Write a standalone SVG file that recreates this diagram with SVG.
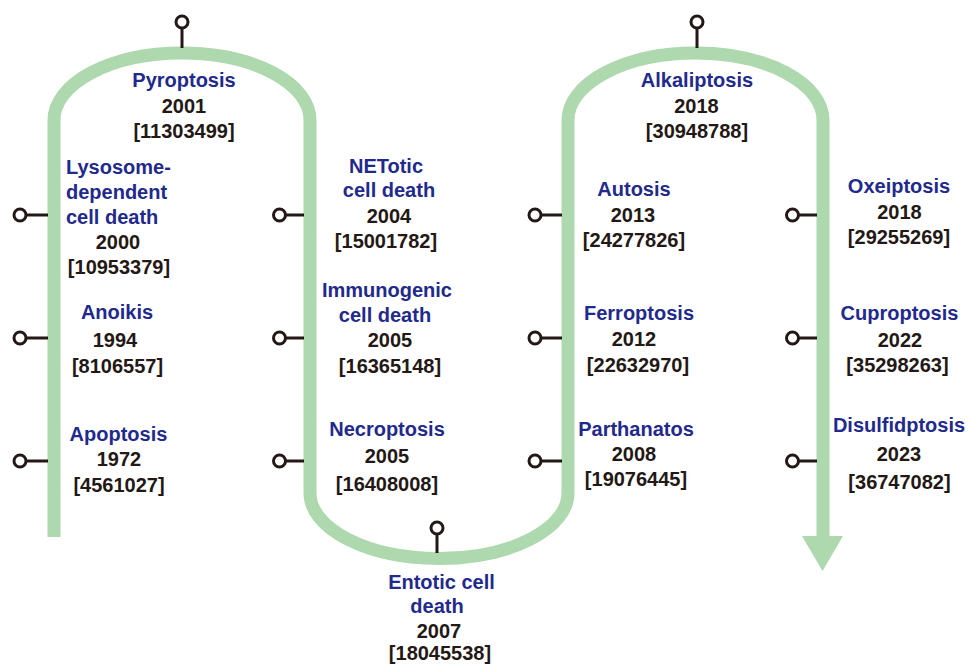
<svg xmlns="http://www.w3.org/2000/svg" width="978" height="664" viewBox="0 0 978 664">
<defs>
<style>
.track{fill:none;stroke:#aed8ae;stroke-width:13}
.head{fill:#aed8ae}
.pin circle{fill:#fff;stroke:#231815;stroke-width:3}
.pin line{stroke:#231815;stroke-width:3}
text{font-family:"Liberation Sans",Arial,sans-serif;font-weight:bold;font-size:20px}
.n{fill:#1f2a8c}
.d{fill:#231815}
.c{text-anchor:middle}
</style>
</defs>
<g id="timeline">
<path class="track" d="M54 537 L54 120 A128 67 0 0 1 310 120 L310 493 A129 65.5 0 0 0 568 493 L568 120 A127.5 67 0 0 1 823 120 L823 537"/>
<polygon class="head" points="802,536 843,536 822.5,571"/>
</g>
<g id="connectors">
<g class="pin"><line x1="182" y1="29" x2="182" y2="48"/><circle cx="182" cy="22" r="6"/></g>
<g class="pin"><line x1="697" y1="29" x2="697" y2="48"/><circle cx="697" cy="22" r="6"/></g>
<g class="pin"><line x1="437" y1="535" x2="437" y2="553"/><circle cx="437" cy="528" r="6"/></g>
<g class="pin"><line x1="27" y1="215" x2="48" y2="215"/><circle cx="20" cy="215" r="6"/></g>
<g class="pin"><line x1="27" y1="338" x2="48" y2="338"/><circle cx="20" cy="338" r="6"/></g>
<g class="pin"><line x1="27" y1="461" x2="48" y2="461"/><circle cx="20" cy="461" r="6"/></g>
<g class="pin"><line x1="286" y1="215" x2="304" y2="215"/><circle cx="279.5" cy="215" r="6"/></g>
<g class="pin"><line x1="286" y1="338" x2="304" y2="338"/><circle cx="279.5" cy="338" r="6"/></g>
<g class="pin"><line x1="286" y1="461" x2="304" y2="461"/><circle cx="279.5" cy="461" r="6"/></g>
<g class="pin"><line x1="542" y1="215" x2="562" y2="215"/><circle cx="535" cy="215" r="6"/></g>
<g class="pin"><line x1="542" y1="338" x2="562" y2="338"/><circle cx="535" cy="338" r="6"/></g>
<g class="pin"><line x1="542" y1="461" x2="562" y2="461"/><circle cx="535" cy="461" r="6"/></g>
<g class="pin"><line x1="799" y1="215" x2="817" y2="215"/><circle cx="792.5" cy="215" r="6"/></g>
<g class="pin"><line x1="799" y1="338" x2="817" y2="338"/><circle cx="792.5" cy="338" r="6"/></g>
<g class="pin"><line x1="799" y1="461" x2="817" y2="461"/><circle cx="792.5" cy="461" r="6"/></g>
</g>
<g id="pyroptosis">
<text class="n c" x="184" y="87">Pyroptosis</text>
<text class="d c" x="184" y="112.5">2001</text>
<text class="d c" x="184" y="138">[11303499]</text>
</g>
<g id="lysosome">
<text class="n" x="66" y="173.5">Lysosome-</text>
<text class="n" x="66" y="198.5">dependent</text>
<text class="n" x="66" y="223.5">cell death</text>
<text class="d c" x="118" y="248.5">2000</text>
<text class="d c" x="119" y="273.5">[10953379]</text>
</g>
<g id="anoikis">
<text class="n c" x="117" y="319">Anoikis</text>
<text class="d c" x="115" y="346.5">1994</text>
<text class="d c" x="117.5" y="373">[8106557]</text>
</g>
<g id="apoptosis">
<text class="n c" x="118.5" y="440.5">Apoptosis</text>
<text class="d c" x="119" y="466">1972</text>
<text class="d c" x="119" y="491.5">[4561027]</text>
</g>
<g id="netotic">
<text class="n c" x="386" y="172.5">NETotic</text>
<text class="n c" x="389" y="197">cell death</text>
<text class="d c" x="389" y="222.5">2004</text>
<text class="d c" x="386" y="248">[15001782]</text>
</g>
<g id="immunogenic">
<text class="n c" x="387" y="297">Immunogenic</text>
<text class="n c" x="385" y="322">cell death</text>
<text class="d c" x="390" y="347">2005</text>
<text class="d c" x="390" y="372.5">[16365148]</text>
</g>
<g id="necroptosis">
<text class="n c" x="387" y="435.5">Necroptosis</text>
<text class="d c" x="387" y="463">2005</text>
<text class="d c" x="387" y="491">[16408008]</text>
</g>
<g id="entotic">
<text class="n c" x="441.5" y="588.5">Entotic cell</text>
<text class="n c" x="437" y="612.5">death</text>
<text class="d c" x="439" y="638">2007</text>
<text class="d c" x="440" y="660">[18045538]</text>
</g>
<g id="alkaliptosis">
<text class="n c" x="697" y="87">Alkaliptosis</text>
<text class="d c" x="696.5" y="112.5">2018</text>
<text class="d c" x="697" y="138">[30948788]</text>
</g>
<g id="autosis">
<text class="n c" x="634" y="196">Autosis</text>
<text class="d c" x="633" y="221.5">2013</text>
<text class="d c" x="634" y="247">[24277826]</text>
</g>
<g id="ferroptosis">
<text class="n c" x="639" y="320">Ferroptosis</text>
<text class="d c" x="634" y="346">2012</text>
<text class="d c" x="638" y="372">[22632970]</text>
</g>
<g id="parthanatos">
<text class="n c" x="636" y="436">Parthanatos</text>
<text class="d c" x="634" y="461">2008</text>
<text class="d c" x="636" y="486">[19076445]</text>
</g>
<g id="oxeiptosis">
<text class="n c" x="899" y="193">Oxeiptosis</text>
<text class="d c" x="899.5" y="218.5">2018</text>
<text class="d c" x="899" y="244">[29255269]</text>
</g>
<g id="cuproptosis">
<text class="n c" x="899.5" y="320">Cuproptosis</text>
<text class="d c" x="900" y="346.5">2022</text>
<text class="d c" x="897.5" y="371.5">[35298263]</text>
</g>
<g id="disulfidptosis">
<text class="n c" x="899" y="431.5">Disulfidptosis</text>
<text class="d c" x="899" y="461">2023</text>
<text class="d c" x="899.5" y="489">[36747082]</text>
</g>
</svg>
